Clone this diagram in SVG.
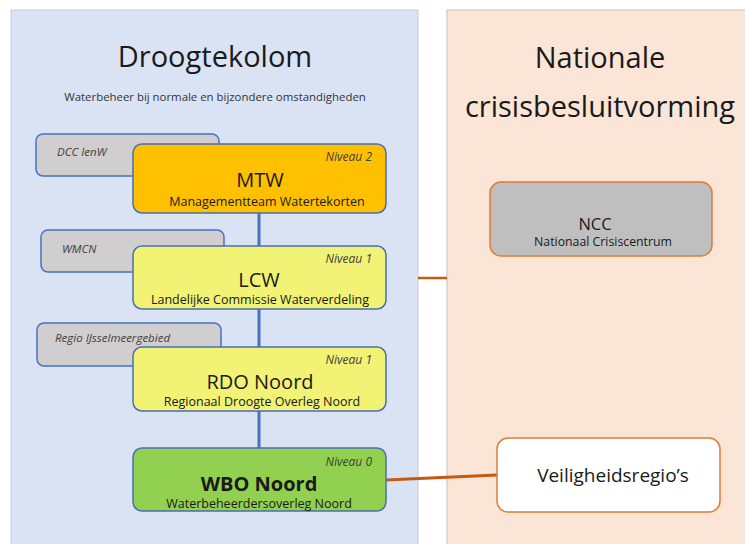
<svg xmlns="http://www.w3.org/2000/svg" width="745" height="544" viewBox="0 0 745 544">
<style>
text{font-family:"Open Sans","Noto Sans",sans-serif;fill:#1a1a1a}
.t{font-size:29px;text-anchor:middle}
.side rect{fill:#d0cece;stroke:#4472c4;stroke-width:1.5}
.side text{font-size:11.5px;font-style:italic;fill:#404040}
.lvl rect{stroke:#4a6fb0;stroke-width:1.5}
.niv{font-size:12px;font-style:italic;text-anchor:end;fill:#404040}
.name{font-size:20px;text-anchor:middle}
.sub{font-size:12.5px;text-anchor:middle}
.or rect{stroke:#e07b39;stroke-width:1.5}
</style>
<rect x="11" y="10" width="407" height="540" fill="#dae3f3" stroke="#c5ccd6" stroke-width="1"/>
<rect x="447" y="10" width="305" height="540" fill="#fbe5d6" stroke="#c9c2bd" stroke-width="1"/>
<text class="t" x="215" y="67">Droogtekolom</text>
<text x="215" y="101" style="font-size:11.4px;text-anchor:middle;fill:#333">Waterbeheer bij normale en bijzondere omstandigheden</text>
<text class="t" x="600" y="68">Nationale</text>
<text class="t" x="600" y="117">crisisbesluitvorming</text>
<g id="connectors">
<line x1="259" y1="213" x2="259" y2="448" stroke="#4472c4" stroke-width="3"/>
<line x1="418" y1="278" x2="447" y2="278" stroke="#c55a11" stroke-width="2.5"/>
<line x1="386" y1="480" x2="497" y2="475" stroke="#c55a11" stroke-width="3"/>
</g>
<g id="dcc" class="side"><rect x="36" y="134" width="183" height="42" rx="7"/><text x="57" y="156">DCC IenW</text></g>
<g id="wmcn" class="side"><rect x="41" y="230" width="183" height="42" rx="7"/><text x="62" y="253">WMCN</text></g>
<g id="regio" class="side"><rect x="37" y="323" width="184" height="43" rx="7"/><text x="55" y="342">Regio IJsselmeergebied</text></g>
<g id="mtw" class="lvl"><rect x="133" y="144" width="253" height="69" rx="9" fill="#ffc000"/>
<text class="niv" x="372" y="161">Niveau 2</text><text class="name" x="260" y="187">MTW</text><text class="sub" x="267" y="206">Managementteam Watertekorten</text></g>
<g id="lcw" class="lvl"><rect x="133" y="246" width="253" height="63" rx="9" fill="#f2f274"/>
<text class="niv" x="372" y="263">Niveau 1</text><text class="name" x="259" y="287">LCW</text><text class="sub" x="260" y="304">Landelijke Commissie Waterverdeling</text></g>
<g id="rdo" class="lvl"><rect x="133" y="347" width="253" height="64" rx="9" fill="#f2f274"/>
<text class="niv" x="372" y="364">Niveau 1</text><text class="name" x="260" y="389">RDO Noord</text><text class="sub" x="262" y="406">Regionaal Droogte Overleg Noord</text></g>
<g id="wbo" class="lvl"><rect x="133" y="448" width="253" height="63" rx="9" fill="#92d050"/>
<text class="niv" x="372" y="466">Niveau 0</text><text class="name" x="259" y="491" style="font-weight:bold">WBO Noord</text><text class="sub" x="259" y="508">Waterbeheerdersoverleg Noord</text></g>
<g id="ncc" class="or"><rect x="490" y="182" width="222" height="74" rx="11" fill="#bfbfbf"/>
<text x="595" y="230" style="font-size:16.5px;text-anchor:middle">NCC</text><text x="603" y="246" style="font-size:12.3px;text-anchor:middle">Nationaal Crisiscentrum</text></g>
<g id="vr" class="or"><rect x="497" y="438" width="223" height="74" rx="11" fill="#ffffff"/>
<text x="613" y="482" style="font-size:19px;text-anchor:middle">Veiligheidsregio’s</text></g>
</svg>
